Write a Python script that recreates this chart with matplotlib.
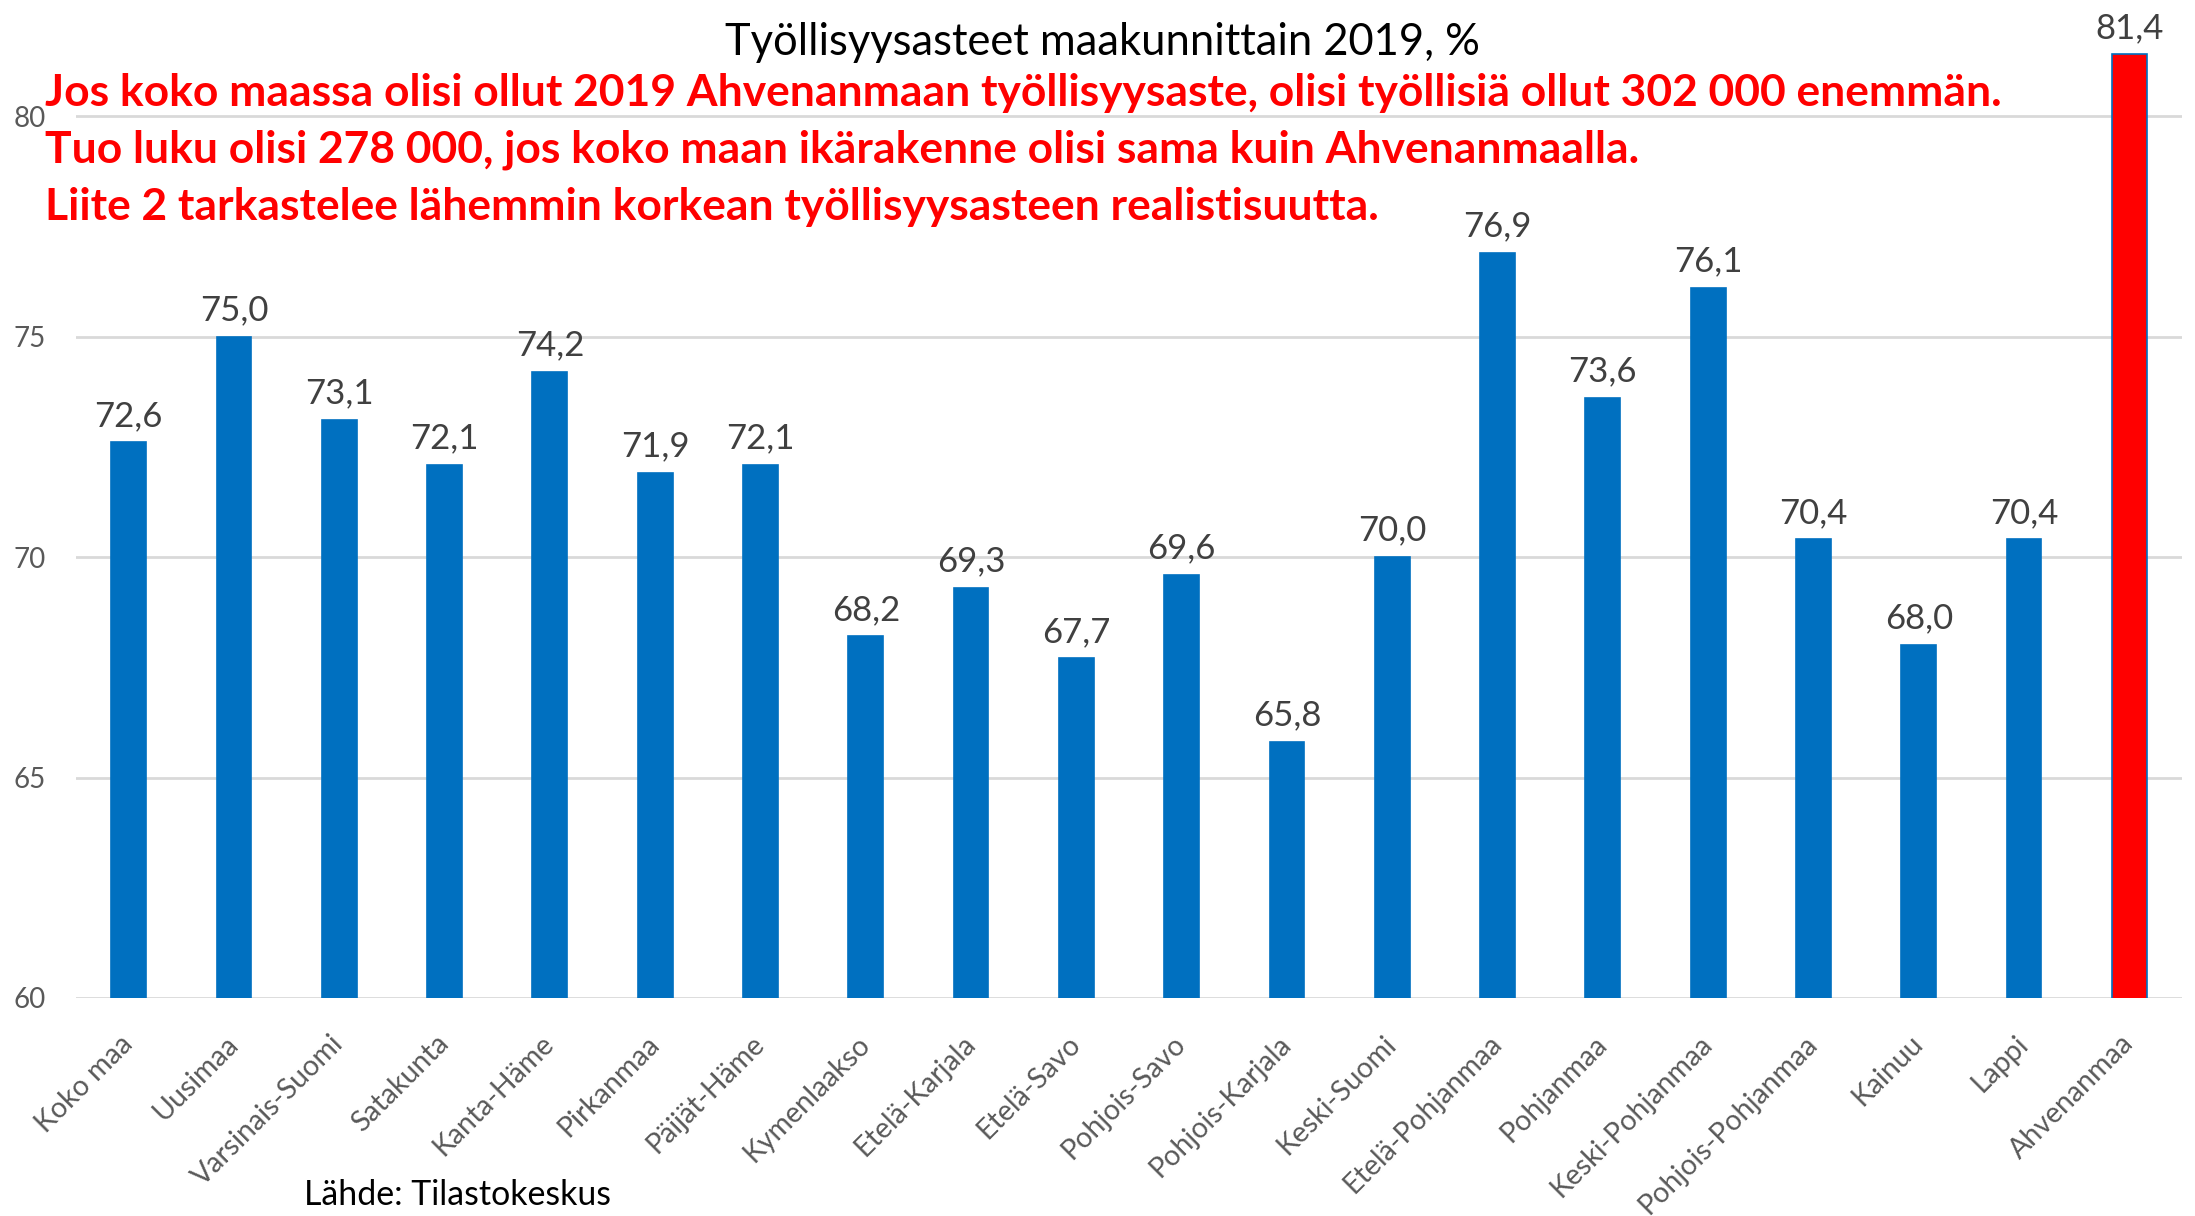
import matplotlib
matplotlib.use("Agg")
import matplotlib.pyplot as plt

categories = ["Koko maa", "Uusimaa", "Varsinais-Suomi", "Satakunta", "Kanta-Häme",
              "Pirkanmaa", "Päijät-Häme", "Kymenlaakso", "Etelä-Karjala", "Etelä-Savo",
              "Pohjois-Savo", "Pohjois-Karjala", "Keski-Suomi", "Etelä-Pohjanmaa",
              "Pohjanmaa", "Keski-Pohjanmaa", "Pohjois-Pohjanmaa", "Kainuu", "Lappi",
              "Ahvenanmaa"]
values = [72.6, 75.0, 73.1, 72.1, 74.2, 71.9, 72.1, 68.2, 69.3, 67.7,
          69.6, 65.8, 70.0, 76.9, 73.6, 76.1, 70.4, 68.0, 70.4, 81.4]
yticks = [60, 65, 70, 75, 80]
title = "Työllisyysasteet maakunnittain 2019, %"
notes = ["Jos koko maassa olisi ollut 2019 Ahvenanmaan työllisyysaste, olisi työllisiä ollut 302 000 enemmän.",
         "Tuo luku olisi 278 000, jos koko maan ikärakenne olisi sama kuin Ahvenanmaalla.",
         "Liite 2 tarkastelee lähemmin korkean työllisyysasteen realistisuutta."]
source = "Lähde: Tilastokeskus"

FONT = "Lato"
plt.rcParams['font.family'] = [FONT, 'DejaVu Sans']

W, H = 2195, 1216
fig = plt.figure(figsize=(W / 100, H / 100), dpi=100)
ax = fig.add_axes([76 / W, 1 - 998 / H, (2182 - 76) / W, (998 - 28) / H])

blue = "#0070C0"
colors = [blue] * (len(values) - 1) + ["#FF0000"]
x = list(range(len(values)))
ax.bar(x, values, width=0.33, color=colors, edgecolor=[blue] * len(values),
       linewidth=1.2, zorder=3)
ax.set_ylim(60, 82)
ax.set_xlim(-0.5, len(values) - 0.5)
ax.set_yticks(yticks)
ax.set_yticklabels([str(t) for t in yticks])
for t in yticks:
    ax.axhline(t, color="#D9D9D9", lw=2, zorder=1)
for s in ax.spines.values():
    s.set_visible(False)
ax.tick_params(axis='y', length=0, labelsize=20, labelcolor="#595959", pad=22)
ax.tick_params(axis='x', length=0, labelsize=20.5, labelcolor="#595959", pad=30)
ax.set_xticks(x)
ax.set_xticklabels(categories, rotation=45, ha='right', va='center',
                   rotation_mode='anchor')

for xi, v in zip(x, values):
    ax.annotate(f"{v:.1f}".replace('.', ','), (xi, v), xytext=(0, 12),
                textcoords='offset points', ha='center', va='baseline',
                fontsize=25, color="#404040", zorder=4)

fig.canvas.draw()
renderer = fig.canvas.get_renderer()

def fit_text(xpix, ypix, s, target_w, ha='left', **kw):
    t = fig.text(xpix / W, 1 - ypix / H, s, ha=ha, va='baseline', fontsize=20, **kw)
    w = t.get_window_extent(renderer).width
    t.set_fontsize(20 * target_w / w)
    return t

fit_text(1102, 55, title, 757, ha='center', color='black')
t1 = fit_text(45, 106, notes[0], 1953, color='#FF0000', fontweight='bold')
fs = t1.get_fontsize()
fig.text(45 / W, 1 - 163 / H, notes[1], ha='left', va='baseline', fontsize=fs,
         color='#FF0000', fontweight='bold')
fig.text(45 / W, 1 - 220 / H, notes[2], ha='left', va='baseline', fontsize=fs,
         color='#FF0000', fontweight='bold')
fit_text(304, 1205, source, 308, color='black')

fig.savefig("out.png", dpi=100, facecolor='white')
